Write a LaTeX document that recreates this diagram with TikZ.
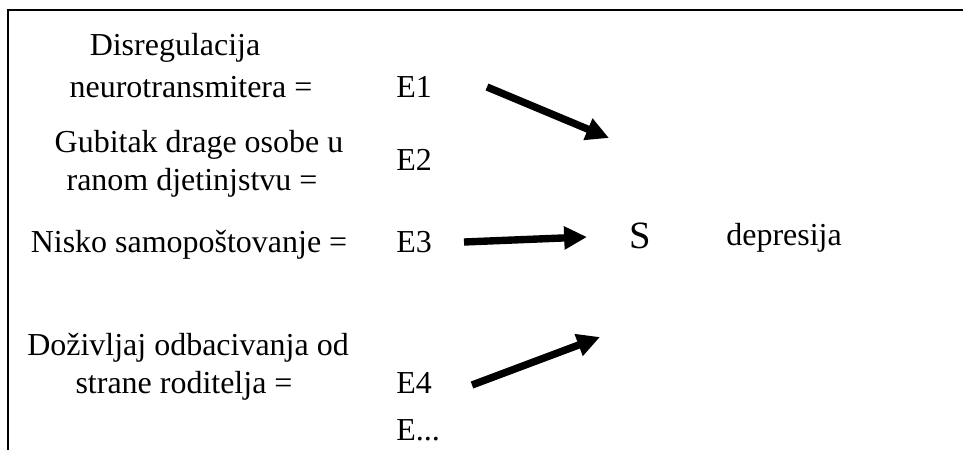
\documentclass[tikz,border=0pt]{standalone}
\usepackage{fontspec}
\setmainfont{Liberation Serif}
\usetikzlibrary{arrows.meta, positioning}

\begin{document}
\begin{tikzpicture}[x=0.02cm, y=-0.02cm,
    txt/.style={font=\fontsize{18.2}{22}\selectfont, inner sep=0pt, anchor=base},
    ename/.style={txt, anchor=base west},
    bigarrow/.style={line width=4.2pt, -{Triangle[length=13pt, width=12.5pt]}}]
  \useasboundingbox (0,0) rectangle (963,450);

  % okvir
  \draw[line width=1.7pt] (963,10) -- (8,10) -- (8,450);

  % lijevo: uzroci
  \node[txt] (d1a) at (175,55) {Disregulacija};
  \node[txt] (d1b) at (191,97) {neurotransmitera =};
  \node[txt] (d2a) at (199,152) {Gubitak drage osobe u};
  \node[txt] (d2b) at (192,190) {ranom djetinjstvu =};
  \node[txt] (d3) at (189,252) {Nisko samopoštovanje =};
  \node[txt] (d4a) at (188,355) {Doživljaj odbacivanja od};
  \node[txt] (d4b) at (184,393) {strane roditelja =};

  % oznake E
  \node[ename] (e1) at (396,97) {E1};
  \node[ename] (e2) at (396,170) {E2};
  \node[ename] (e3) at (396,252) {E3};
  \node[ename] (e4) at (396,393) {E4};
  \node[ename] (edots) at (396,440) {E...};

  % desno
  \node[ename, font=\fontsize{22}{26}\selectfont] (s) at (629,248) {S};
  \node[ename] (dep) at (726,245) {depresija};

  % strelice
  \coordinate (a1s) at (487,87);  \coordinate (a1e) at (609,138);
  \coordinate (a2s) at (464,242); \coordinate (a2e) at (587,237);
  \coordinate (a3s) at (472,385); \coordinate (a3e) at (600,337);
  \draw[bigarrow] (a1s) -- (a1e);
  \draw[bigarrow] (a2s) -- (a2e);
  \draw[bigarrow] (a3s) -- (a3e);
\end{tikzpicture}
\end{document}
